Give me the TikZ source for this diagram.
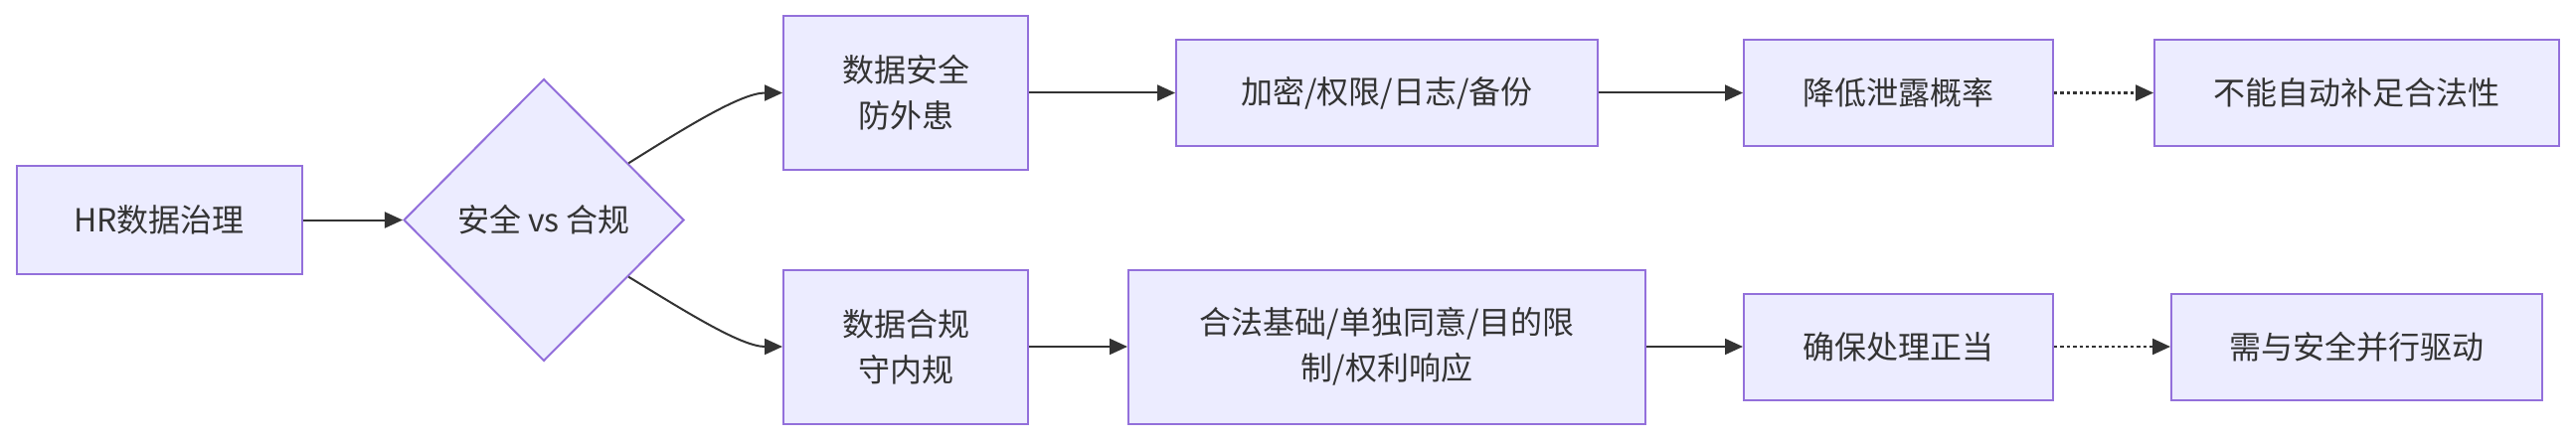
\documentclass[tikz,border=0pt]{standalone}
\usepackage{fontspec}
\setmainfont{Noto Sans CJK SC}
\usetikzlibrary{shapes.geometric,arrows.meta,calc}
\definecolor{boxfill}{HTML}{ECECFF}
\definecolor{boxline}{HTML}{9370DB}
\definecolor{ink}{HTML}{333333}
\tikzset{
  box/.style={draw=boxline, fill=boxfill, line width=1pt, text=ink, align=center,
    inner sep=0pt, font=\fontsize{16}{23}\selectfont},
  decision/.style={box, diamond, shape aspect=1},
  flow/.style={draw=ink, line width=1pt, -{Triangle[length=9pt,width=8pt]}},
  dotflow/.style={flow, line width=1.1pt, dash pattern=on 1.7pt off 1.5pt}
}
\begin{document}
\begin{tikzpicture}[x=0.5pt, y=-0.5pt]
  \useasboundingbox (0,0) rectangle (2591,444);

  \node[box, minimum width=143.5pt, minimum height=54.5pt] (hr) at (160,221.5) {HR数据治理};
  \node[decision, minimum width=141pt, minimum height=142pt] (tradeoff) at (547,221.5) {安全 vs 合规};

  \node[box, minimum width=123pt, minimum height=77pt] (safe) at (911,93.5) {数据安全\\防外患};
  \node[box, minimum width=212pt, minimum height=53.5pt] (measures) at (1395,93.5) {加密/权限/日志/备份};
  \node[box, minimum width=155.5pt, minimum height=53.5pt] (lowrisk) at (1909.5,93.5) {降低泄露概率};
  \node[box, minimum width=203.5pt, minimum height=53.5pt] (nolegal) at (2370.5,93.5) {不能自动补足合法性};

  \node[box, minimum width=123pt, minimum height=77.5pt] (comply) at (911,349) {数据合规\\守内规};
  \node[box, minimum width=260pt, minimum height=77.5pt] (rules) at (1395,349) {合法基础/单独同意/目的限\\制/权利响应};
  \node[box, minimum width=155.5pt, minimum height=53.5pt] (proper) at (1909.5,349) {确保处理正当};
  \node[box, minimum width=186.5pt, minimum height=53.5pt] (together) at (2370.5,349) {需与安全并行驱动};

  \draw[flow] (hr) -- (tradeoff);
  \draw[flow] ($(tradeoff.north)!0.6!(tradeoff.east)$) .. controls (687,130) and (745,93.5) .. (safe.west);
  \draw[flow] ($(tradeoff.south)!0.6!(tradeoff.east)$) .. controls (687,312) and (745,349) .. (comply.west);

  \draw[flow] (safe) -- (measures);
  \draw[flow] (measures) -- (lowrisk);
  \draw[dotflow] (lowrisk) -- (nolegal);

  \draw[flow] (comply) -- (rules);
  \draw[flow] (rules) -- (proper);
  \draw[dotflow] (proper) -- (together);
\end{tikzpicture}
\end{document}
